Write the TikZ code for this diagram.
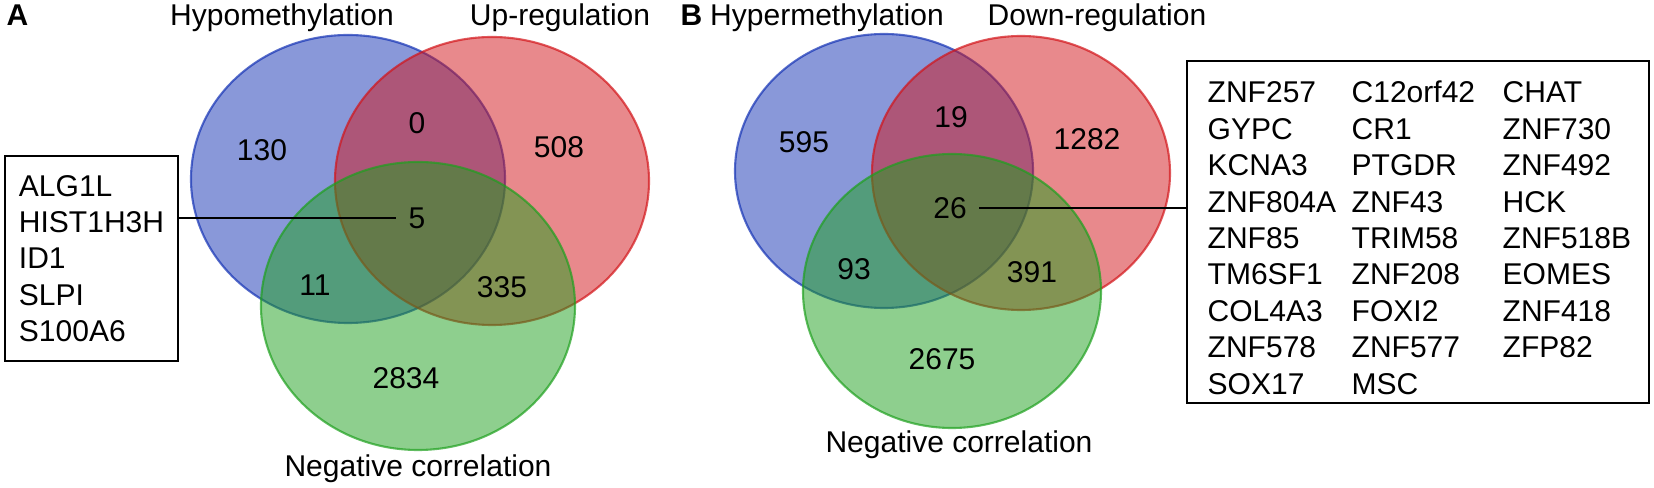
\documentclass[tikz,border=0pt]{standalone}
\usepackage{fontspec}
\setmainfont{Liberation Sans}
\usepackage{tikz}

\definecolor{vennblue}{RGB}{20,50,180}
\definecolor{vennred}{RGB}{210,20,25}
\definecolor{venngreen}{RGB}{30,160,30}

\begin{document}
\begin{tikzpicture}[
  every node/.style={font=\fontsize{8.54}{10.35}\selectfont},
  venn/.style={fill opacity=0.5, draw opacity=0.7, line width=0.6pt},
  title/.style={inner sep=0pt, anchor=base},
  genebox/.style={draw, line width=0.75pt, align=left},
  link/.style={line width=0.75pt}
]
\useasboundingbox (0,0) rectangle (16.54,4.88);

% Panel A: hypomethylation / up-regulation
\node[title, anchor=base west, font=\fontsize{8.54}{10.35}\selectfont\bfseries] (labA) at (0.06,4.62) {A};
\node[title] (hypoA) at (2.82,4.62) {Hypomethylation};
\node[title] (upA) at (5.60,4.62) {Up-regulation};
\node[title] (negA) at (4.18,0.11) {Negative correlation};

% Circles
\draw[venn, draw=vennblue, fill=vennblue] (3.48,3.09) ellipse [x radius=1.57, y radius=1.44];
\draw[venn, draw=vennred, fill=vennred] (4.92,3.07) ellipse [x radius=1.57, y radius=1.44];
\draw[venn, draw=venngreen, fill=venngreen] (4.18,1.82) ellipse [x radius=1.57, y radius=1.44];

% Counts
\node (a130) at (2.62,3.38) {130};
\node (a0) at (4.17,3.65) {0};
\node (a508) at (5.59,3.41) {508};
\node (a5) at (4.17,2.70) {5};
\node (a11) at (3.15,2.03) {11};
\node (a335) at (5.02,2.01) {335};
\node (a2834) at (4.06,1.10) {2834};

% Gene list
\node[genebox, minimum width=1.73cm, minimum height=2.05cm] (listA) at (0.915,2.295)
  {ALG1L\\HIST1H3H\\ID1\\SLPI\\S100A6};
\draw[link] (listA.east |- a5) -- (a5.west);

% Panel B: hypermethylation / down-regulation
\node[title, anchor=base west, font=\fontsize{8.54}{10.35}\selectfont\bfseries] (labB) at (6.80,4.62) {B};
\node[title] (hyperB) at (8.27,4.62) {Hypermethylation};
\node[title] (downB) at (10.97,4.62) {Down-regulation};
\node[title] (negB) at (9.59,0.35) {Negative correlation};

% Circles
\draw[venn, draw=vennblue, fill=vennblue] (8.84,3.17) ellipse [x radius=1.49, y radius=1.37];
\draw[venn, draw=vennred, fill=vennred] (10.21,3.15) ellipse [x radius=1.49, y radius=1.37];
\draw[venn, draw=venngreen, fill=venngreen] (9.52,1.97) ellipse [x radius=1.49, y radius=1.37];

% Counts
\node (b595) at (8.04,3.46) {595};
\node (b19) at (9.51,3.71) {19};
\node (b1282) at (10.87,3.49) {1282};
\node (b26) at (9.50,2.80) {26};
\node (b93) at (8.54,2.19) {93};
\node (b391) at (10.32,2.16) {391};
\node (b2675) at (9.42,1.29) {2675};

% Gene list
\node[genebox, minimum width=4.62cm, minimum height=3.42cm] (listB) at (14.18,2.56) {};
\node[inner sep=0pt, anchor=base west] (genesB) at (12.07,3.85) {%
  \setlength{\tabcolsep}{0pt}%
  \begin{tabular}[t]{@{}p{1.44cm}p{1.51cm}l@{}}
  ZNF257 & C12orf42 & CHAT\\
  GYPC & CR1 & ZNF730\\
  KCNA3 & PTGDR & ZNF492\\
  ZNF804A & ZNF43 & HCK\\
  ZNF85 & TRIM58 & ZNF518B\\
  TM6SF1 & ZNF208 & EOMES\\
  COL4A3 & FOXI2 & ZNF418\\
  ZNF578 & ZNF577 & ZFP82\\
  SOX17 & MSC &
  \end{tabular}};
\draw[link] (b26.east) -- (b26.east -| listB.west);

\end{tikzpicture}
\end{document}
